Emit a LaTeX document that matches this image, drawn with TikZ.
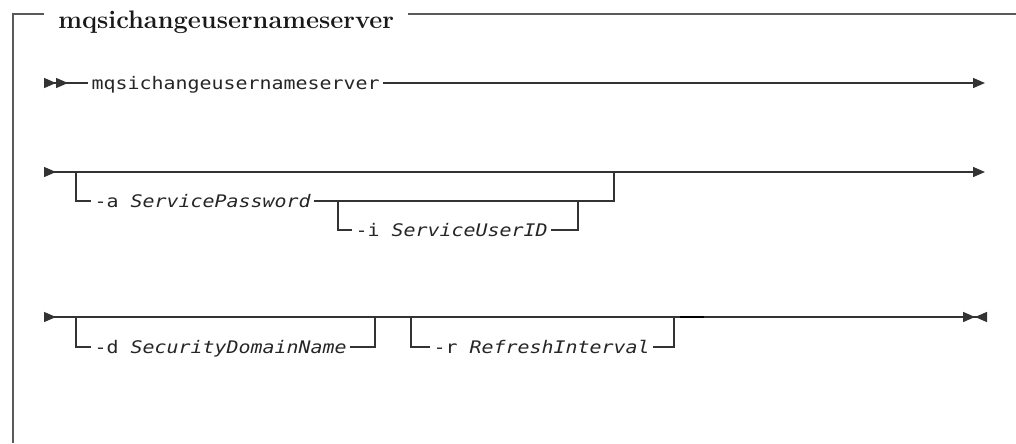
\documentclass[tikz,border=0pt]{standalone}
\usepackage{fontspec}
\newfontfamily\railfont[FakeStretch=1.15]{DejaVu Sans Mono}
\usetikzlibrary{arrows.meta}
\begin{document}
\begin{tikzpicture}[x=0.75pt,y=-0.75pt,
    rail/.style={draw=black!80, line width=1pt},
    frame/.style={draw=black!65, line width=1.1pt},
    kw/.style={font=\fontsize{13}{15}\railfont, text=black!85, inner xsep=2.5pt,
      inner ysep=0pt, text height=10pt, text depth=0pt, anchor=west},
    title/.style={font=\fontsize{19}{22}\selectfont\bfseries, text=black!90,
      inner xsep=10.5pt, anchor=base west},
    rtip/.tip={Triangle[length=9pt,width=7.5pt]},
    ltip/.tip={Triangle[length=9pt,width=7.5pt,reversed]}]
  \useasboundingbox (0,0) rectangle (1016,443);
  % frame and title
  \coordinate (tl) at (13,14);
  \coordinate (tr) at (1016,14);
  \coordinate (bl) at (13,443);
  \node[title] (ttl) at (44,28) {mqsichangeusernameserver};
  \draw[frame] (ttl.west |- tl) -- (tl) -- (bl);
  \draw[frame] (ttl.east |- tl) -- (tr);
  % first line
  \coordinate (s1) at (44,83);
  \coordinate (e1) at (985,83);
  \node[kw] (cmd) at (88,83) {mqsichangeusernameserver};
  \draw[rail,{ltip[]ltip[]}-] (s1) -- (cmd.west);
  \draw[rail,-{rtip[]}] (cmd.east) -- (e1);
  % second line
  \coordinate (s2) at (44,172);
  \coordinate (e2) at (985,172);
  \draw[rail,{ltip[]}-{rtip[]}] (s2) -- (e2);
  \coordinate (a0) at (76,172);
  \coordinate (a1) at (614,172);
  \node[kw] (pw) at (91,201) {-a \textit{ServicePassword}};
  \draw[rail] (a0) |- (pw.west);
  \draw[rail] (pw.east) -| (a1);
  \coordinate (i0) at (338,201);
  \coordinate (i1) at (578,201);
  \node[kw] (uid) at (352,230) {-i \textit{ServiceUserID}};
  \draw[rail] (i0) |- (uid.west);
  \draw[rail] (uid.east) -| (i1);
  % third line
  \coordinate (s3) at (44,317);
  \coordinate (e3) at (987,317);
  \draw[rail,{ltip[]}-{rtip[]ltip[]}] (s3) -- (e3);
  \coordinate (d0) at (76,317);
  \coordinate (d1) at (375,317);
  \node[kw] (dom) at (91,347) {-d \textit{SecurityDomainName}};
  \draw[rail] (d0) |- (dom.west);
  \draw[rail] (dom.east) -| (d1);
  \coordinate (r0) at (411,317);
  \coordinate (r1) at (674,317);
  \node[kw] (intv) at (430,347) {-r \textit{RefreshInterval}};
  \draw[rail] (r0) |- (intv.west);
  \draw[rail] (intv.east) -| (r1);
  \coordinate (m0) at (680,317);
  \coordinate (m1) at (704,317);
  \draw[draw=black, line width=2pt] (m0) -- (m1);
\end{tikzpicture}
\end{document}
